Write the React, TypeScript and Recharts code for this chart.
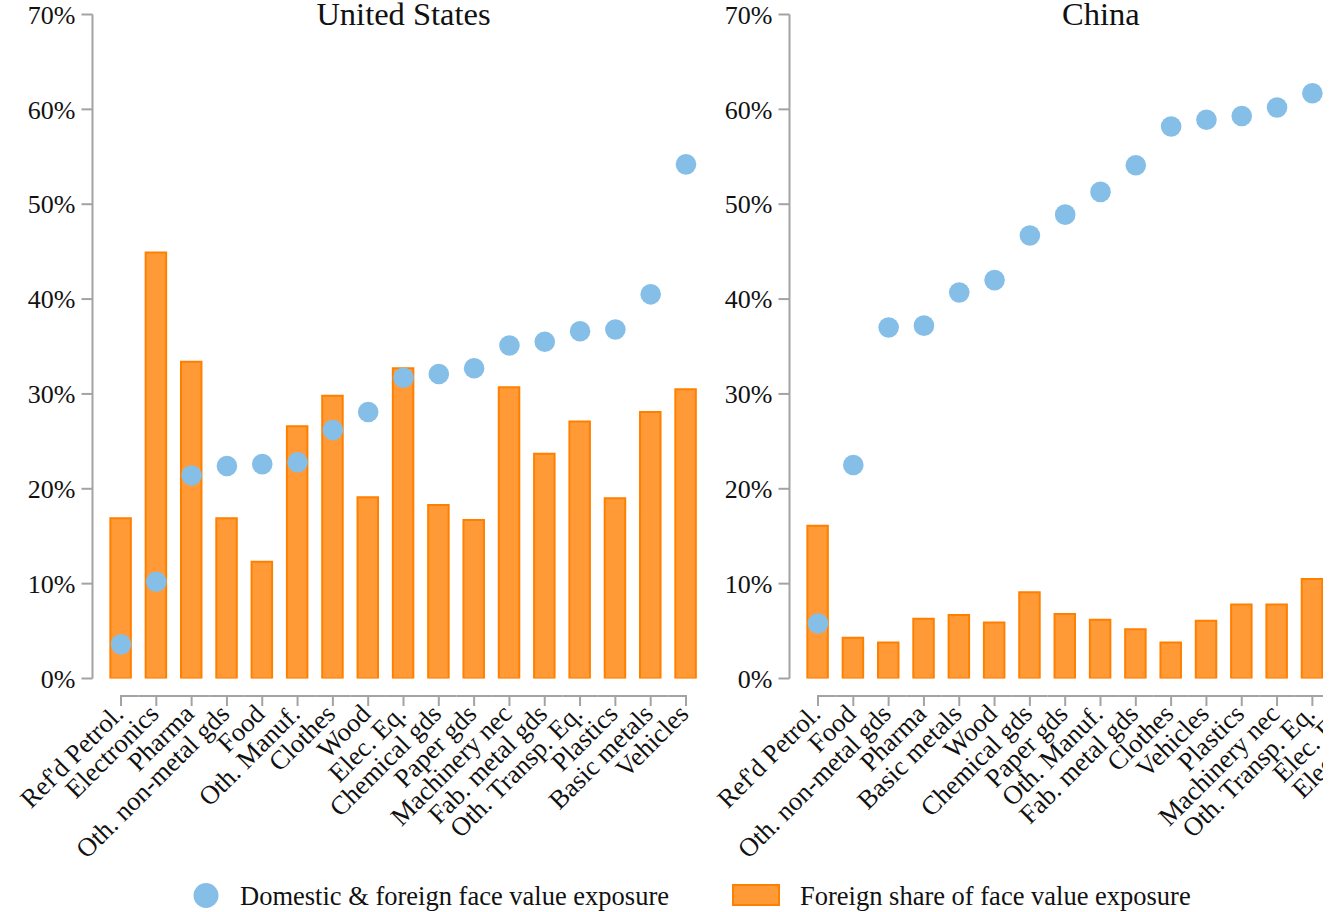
import React from 'react';
import { ComposedChart, Bar, Line, XAxis, YAxis } from 'recharts';

// ---- United States: sectors ordered by total exposure ----
const usSectors = [
  "Ref'd Petrol.", 'Electronics', 'Pharma', 'Oth. non-metal gds', 'Food', 'Oth. Manuf.',
  'Clothes', 'Wood', 'Elec. Eq.', 'Chemical gds', 'Paper gds', 'Machinery nec',
  'Fab. metal gds', 'Oth. Transp. Eq.', 'Plastics', 'Basic metals', 'Vehicles',
];
const usForeignShare = [16.9, 44.9, 33.4, 16.9, 12.3, 26.6, 29.8, 19.1, 32.7, 18.3, 16.7, 30.7, 23.7, 27.1, 19.0, 28.1, 30.5];
const usTotalExposure = [3.6, 10.2, 21.4, 22.4, 22.6, 22.8, 26.2, 28.1, 31.7, 32.1, 32.7, 35.1, 35.5, 36.6, 36.8, 40.5, 54.2];

// ---- China: sectors ordered by total exposure ----
// The last two sectors sit past the right edge of the frame, so their values are left empty.
const cnSectors = [
  "Ref'd Petrol.", 'Food', 'Oth. non-metal gds', 'Pharma', 'Basic metals', 'Wood',
  'Chemical gds', 'Paper gds', 'Oth. Manuf.', 'Fab. metal gds', 'Clothes', 'Vehicles',
  'Plastics', 'Machinery nec', 'Oth. Transp. Eq.', 'Elec. Eq.', 'Electronics',
];
const cnForeignShare = [16.1, 4.3, 3.8, 6.3, 6.7, 5.9, 9.1, 6.8, 6.2, 5.2, 3.8, 6.1, 7.8, 7.8, 10.5, null, null];
const cnTotalExposure = [5.8, 22.5, 37.0, 37.2, 40.7, 42.0, 46.7, 48.9, 51.3, 54.1, 58.2, 58.9, 59.3, 60.2, 61.7, null, null];

const yTicks = [0, 10, 20, 30, 40, 50, 60, 70];

const FONT = '"Liberation Serif", "Times New Roman", Times, serif';
const AXIS_GREY = '#a3a3a3';
const TEXT = '#111111';
const DOT_BLUE = '#85bfe8';
const BAR_FILL = '#ff9a36';
const BAR_EDGE = '#ff8000';

// panel geometry
const Y_AXIS_W = 92.5;
const PLOT_W = 622;
const X_PAD = 10.85;
const CHART_W = 730;
const CHART_H = 880;
const TOP = 14.5;
const PLOT_H = 664;

type Row = { sector: string; foreign: number | null; total: number | null };

const buildRows = (sectors: string[], foreign: (number | null)[], total: (number | null)[]): Row[] =>
  sectors.map((sector, i) => ({ sector, foreign: foreign[i], total: total[i] }));

const usRows = buildRows(usSectors, usForeignShare, usTotalExposure);
const cnRows = buildRows(cnSectors, cnForeignShare, cnTotalExposure);

// Stata-style detached category axis: offset baseline, downward ticks, 45° labels
const makeSectorTick = (count: number) => {
  const band = (PLOT_W - 2 * X_PAD) / count;
  return (props: any) => {
    const { x, y, payload, index } = props;
    const lineY = y + 17.5;
    const x1 = index === 0 ? x - 1 : x - band / 2;
    const x2 = index === count - 1 ? x + 1 : x + band / 2;
    const lx = x + 4;
    const ly = y + 37;
    return (
      <g>
        <line x1={x1} x2={x2} y1={lineY} y2={lineY} stroke={AXIS_GREY} strokeWidth={2} />
        <line x1={x} x2={x} y1={lineY} y2={lineY + 10} stroke={AXIS_GREY} strokeWidth={2} />
        <text
          x={lx}
          y={ly}
          transform={`rotate(-45, ${lx}, ${ly})`}
          textAnchor="end"
          fontFamily={FONT}
          fontSize={26.5}
          fill={TEXT}
        >
          {payload.value}
        </text>
      </g>
    );
  };
};

const Panel = ({ rows, left }: { rows: Row[]; left: number }) => (
  <div style={{ position: 'absolute', left, top: 0 }}>
    <ComposedChart
      width={CHART_W}
      height={CHART_H}
      data={rows}
      margin={{ top: TOP, right: CHART_W - Y_AXIS_W - PLOT_W, bottom: 0, left: 0 }}
    >
      <XAxis
        dataKey="sector"
        type="category"
        interval={0}
        padding={{ left: X_PAD, right: X_PAD }}
        height={CHART_H - TOP - PLOT_H}
        axisLine={false}
        tickLine={false}
        tickSize={0}
        tickMargin={0}
        tick={makeSectorTick(rows.length)}
      />
      <YAxis
        type="number"
        domain={[0, 70]}
        ticks={yTicks}
        width={Y_AXIS_W}
        allowDataOverflow
        axisLine={{ stroke: AXIS_GREY, strokeWidth: 2 }}
        tickLine={{ stroke: AXIS_GREY, strokeWidth: 2 }}
        tickSize={11}
        tickMargin={6}
        tick={{ fontFamily: FONT, fontSize: 26, fill: TEXT }}
        tickFormatter={(v: number) => `${v}%`}
      />
      <Bar
        dataKey="foreign"
        barSize={20.5}
        fill={BAR_FILL}
        stroke={BAR_EDGE}
        strokeWidth={2}
        isAnimationActive={false}
      />
      <Line
        dataKey="total"
        stroke="none"
        dot={{ r: 10.3, fill: DOT_BLUE, stroke: 'none' }}
        activeDot={false}
        isAnimationActive={false}
      />
    </ComposedChart>
  </div>
);

export default function App() {
  const usLeft = 0;
  const cnLeft = 697.3;
  return (
    <div
      style={{
        position: 'fixed',
        left: 0,
        top: 0,
        width: 1323,
        height: 912,
        overflow: 'hidden',
        background: '#ffffff',
      }}
    >
      <Panel rows={usRows} left={usLeft} />
      <Panel rows={cnRows} left={cnLeft} />
      <svg
        width={1323}
        height={912}
        style={{ position: 'absolute', left: 0, top: 0, pointerEvents: 'none' }}
      >
        <text
          x={usLeft + Y_AXIS_W + PLOT_W / 2}
          y={25}
          textAnchor="middle"
          fontFamily={FONT}
          fontSize={32.5}
          fill={TEXT}
        >
          United States
        </text>
        <text
          x={cnLeft + Y_AXIS_W + PLOT_W / 2}
          y={25}
          textAnchor="middle"
          fontFamily={FONT}
          fontSize={32.5}
          fill={TEXT}
        >
          China
        </text>
        {/* legend */}
        <circle cx={206} cy={895.5} r={12.5} fill={DOT_BLUE} />
        <text x={240} y={905} fontFamily={FONT} fontSize={26.5} fill={TEXT}>
          Domestic &amp; foreign face value exposure
        </text>
        <rect x={733} y={885} width={46} height={20} fill={BAR_FILL} stroke={BAR_EDGE} strokeWidth={2} />
        <text x={800} y={905} fontFamily={FONT} fontSize={26.5} fill={TEXT}>
          Foreign share of face value exposure
        </text>
      </svg>
    </div>
  );
}
